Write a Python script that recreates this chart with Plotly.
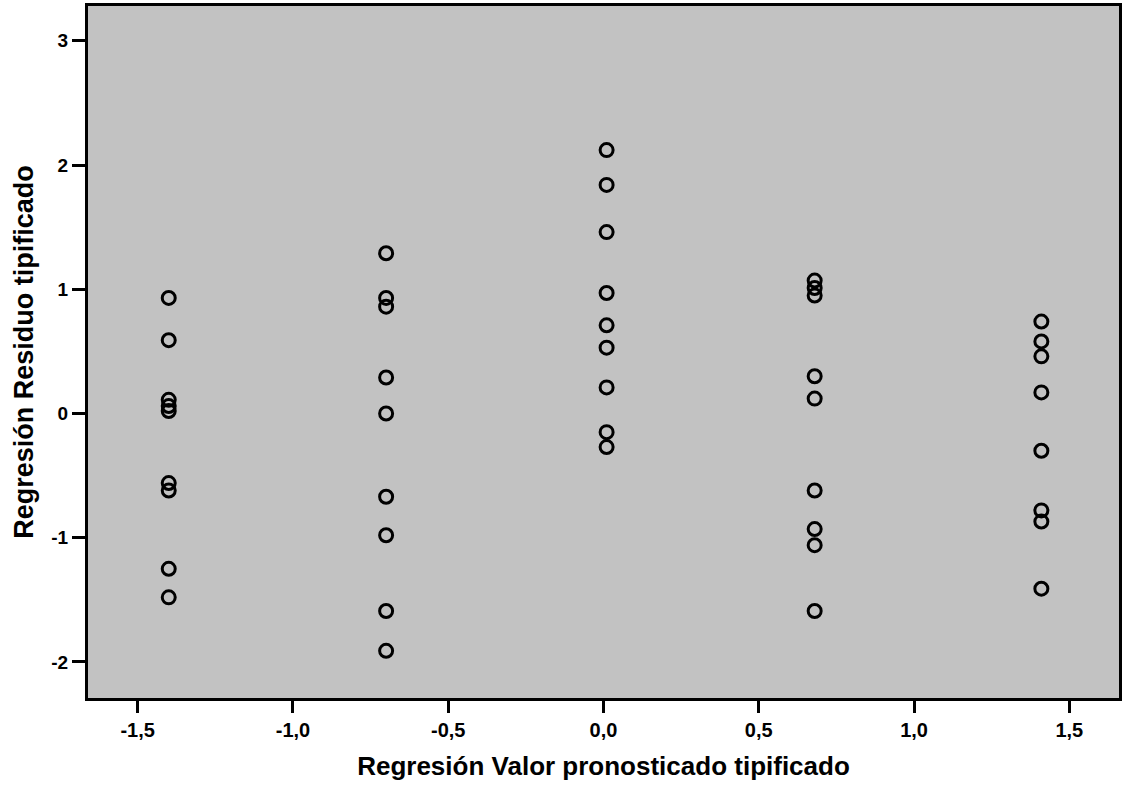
import plotly.graph_objects as go

# Predicted value groups (x) and standardized residuals (y)
x_groups = [-1.40, -0.70, 0.01, 0.68, 1.41]
resid_g1 = [0.93, 0.59, 0.11, 0.06, 0.02, -0.56, -0.62, -1.25, -1.48]
resid_g2 = [1.29, 0.93, 0.86, 0.29, 0.00, -0.67, -0.98, -1.59, -1.91]
resid_g3 = [2.12, 1.84, 1.46, 0.97, 0.71, 0.53, 0.21, -0.15, -0.27]
resid_g4 = [1.07, 1.01, 0.95, 0.30, 0.12, -0.62, -0.93, -1.06, -1.59]
resid_g5 = [0.74, 0.58, 0.46, 0.17, -0.30, -0.78, -0.87, -1.41]

x_tickvals = [-1.5, -1.0, -0.5, 0.0, 0.5, 1.0, 1.5]
x_ticktext = ["-1,5", "-1,0", "-0,5", "0,0", "0,5", "1,0", "1,5"]
y_tickvals = [-2, -1, 0, 1, 2, 3]
y_ticktext = ["-2", "-1", "0", "1", "2", "3"]

groups = [resid_g1, resid_g2, resid_g3, resid_g4, resid_g5]
xs, ys = [], []
for gx, vals in zip(x_groups, groups):
    for v in vals:
        xs.append(gx)
        ys.append(v)

fig = go.Figure()
fig.add_trace(go.Scatter(
    x=xs, y=ys, mode="markers",
    marker=dict(symbol="circle-open", size=13, color="black",
                line=dict(width=3, color="black")),
    showlegend=False, hoverinfo="skip",
))

font_family = "Liberation Sans, Arial, sans-serif"
fig.update_layout(
    width=1125, height=786,
    margin=dict(l=88, r=3, t=5, b=88),
    paper_bgcolor="white",
    plot_bgcolor="#c2c2c2",
    font=dict(family=font_family, color="black"),
)
fig.update_xaxes(
    range=[-1.66, 1.66],
    tickvals=x_tickvals, ticktext=x_ticktext,
    ticks="outside", ticklen=12, tickwidth=2.5, tickcolor="black",
    tickfont=dict(size=20, weight="bold", family=font_family, color="black"),
    showgrid=False, zeroline=False,
    showline=True, linewidth=3, linecolor="black", mirror=True,
    title=dict(text="Regresión Valor pronosticado tipificado",
               font=dict(size=26, weight="bold", family=font_family, color="black"),
               standoff=17),
)
fig.update_yaxes(
    range=[-2.29, 3.28],
    tickvals=y_tickvals, ticktext=y_ticktext,
    ticks="outside", ticklen=13, tickwidth=2.5, tickcolor="black",
    tickfont=dict(size=19, weight="bold", family=font_family, color="black"),
    showgrid=False, zeroline=False,
    showline=True, linewidth=3, linecolor="black", mirror=True,
    title=dict(text="Regresión Residuo tipificado",
               font=dict(size=27, weight="bold", family=font_family, color="black"),
               standoff=10),
)

fig.write_html("out.html")
